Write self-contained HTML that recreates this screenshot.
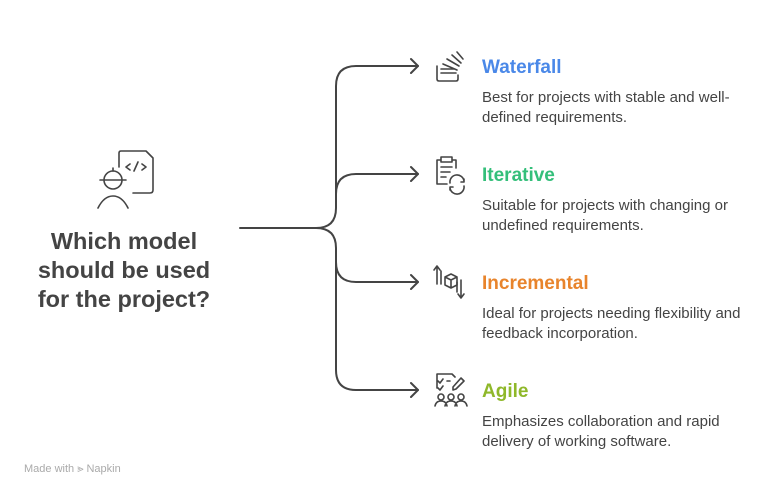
<!DOCTYPE html>
<html><head><style>
body{margin:0;width:780px;height:498px;background:#fff;font-family:"Liberation Sans",sans-serif;position:relative;overflow:hidden}
.t{position:absolute;left:482px;font-weight:bold;font-size:19px}
.d{position:absolute;left:482px;font-size:15px;line-height:20px;color:#444}
.q{position:absolute;left:20px;width:208px;top:227px;text-align:center;font-weight:bold;font-size:23.5px;line-height:29px;color:#444}
</style></head><body>
<svg width="780" height="498" style="position:absolute;left:0;top:0" fill="none" stroke="#444" stroke-width="2" stroke-linecap="round" stroke-linejoin="round">
<path d="M240 228 H316 Q336 228 336 208 V86 Q336 66 356 66 H418"/>
<path d="M336 194 Q336 174 356 174 H418"/>
<path d="M316 228 Q336 228 336 248 V262 Q336 282 356 282 H418"/>
<path d="M336 262 V370 Q336 390 356 390 H418"/>
<path d="M411 59 L418 66 L411 73 M411 167 L418 174 L411 181 M411 275 L418 282 L411 289 M411 383 L418 390 L411 397"/>
<g stroke-width="1.6">
<path d="M119 167 V153 Q119 151 121 151 H146 L153 158 V190 Q153 193 150 193 H133"/>
<path d="M130 164 L126 167 L130 170 M134 171 L138 162 M142 164 L146 167 L142 170"/>
<circle cx="113" cy="180" r="9"/><path d="M100 180 H126 M113 171 V168"/>
<path d="M98 208 Q104 196 113 196 Q122 196 128 208"/>
<path d="M437 66 V79 Q437 81 439 81 H456 Q458 81 458 79 V75 M441 73 H456 M441 69 H455 M443 64 L457 70 M447 59 L459 66 M452 55 L461 63 M457 52 L463 59"/>
<path d="M437 160 V184 H447 M441 160 H437 M452 160 H456 V168 M441 157 H452 V162 H441 Z M441 167 H452 M441 172 H450 M441 177 H446"/>
<path d="M450 183 A7 7 0 0 1 464 181 M464 179 V182 H461 M464 186 A7 7 0 0 1 450 188 M450 190 V187 H453"/>
<path d="M437 284 V267 M434 270 L437 266 L440 270 M441 284 V271 M461 280 V297 M458 294 L461 298 L464 294 M457 282 V292"/>
<path d="M445 277 L451 274 L457 277 V285 L451 288 L445 285 Z M445 277 L451 280 L457 277 M451 280 V288"/>
<path d="M437 388 V374 H452 L455 377 M438 381 L440 383 L443 379 M438 388 L440 390 L443 386 M447 381 H450 M461 378 L464 381 L456 389 L453 390 L453 387 Z"/>
<circle cx="441" cy="397" r="3"/><circle cx="451" cy="397" r="3"/><circle cx="461" cy="397" r="3"/>
<path d="M435 406 Q436 401 441 401 Q446 401 447 406 M445 406 Q446 401 451 401 Q456 401 457 406 M455 406 Q456 401 461 401 Q466 401 467 406"/>
</g>
</svg>
<div class="q">Which model<br>should be used<br>for the project?</div>
<div class="t" style="top:57px;color:#4a88e8">Waterfall</div>
<div class="d" style="top:88px">Best for projects with stable and well-<br>defined requirements.</div>
<div class="t" style="top:165px;color:#34bf7a">Iterative</div>
<div class="d" style="top:196px">Suitable for projects with changing or<br>undefined requirements.</div>
<div class="t" style="top:273px;color:#e8842c">Incremental</div>
<div class="d" style="top:304px">Ideal for projects needing flexibility and<br>feedback incorporation.</div>
<div class="t" style="top:381px;color:#8fb82a">Agile</div>
<div class="d" style="top:412px">Emphasizes collaboration and rapid<br>delivery of working software.</div>
<div style="position:absolute;left:24px;top:463px;font-size:11px;color:#aaa">Made with ⪢ Napkin</div>
</body></html>
